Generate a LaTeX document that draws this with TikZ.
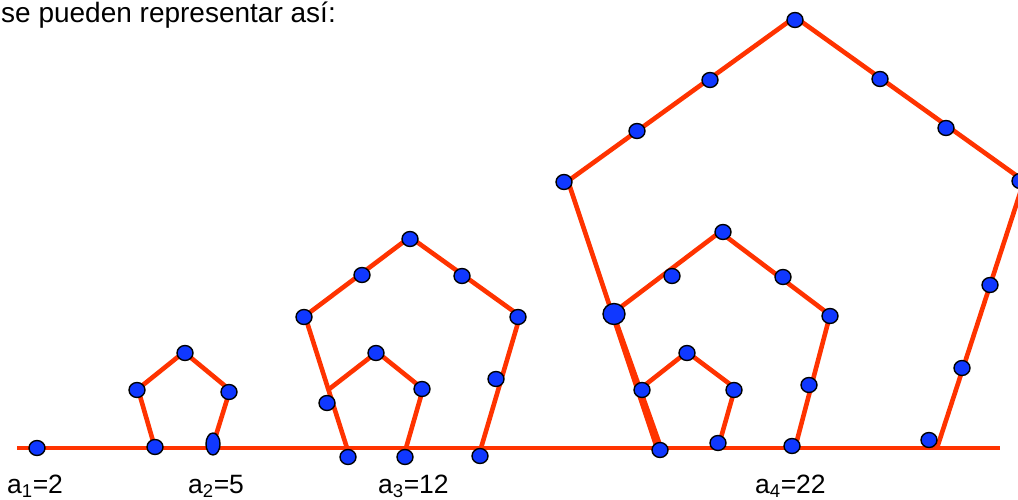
\documentclass[tikz,border=0pt]{standalone}
\usepackage{fontspec}
\setmainfont{Liberation Sans}
\usetikzlibrary{shapes.geometric}
\definecolor{rodred}{RGB}{255,51,0}
\definecolor{beadblue}{RGB}{16,56,255}

\begin{document}
\begin{tikzpicture}[x=1pt, y=-1pt,
    rod/.style={draw=rodred, line width=4.6pt},
    bead/.style={ellipse, draw=black, fill=beadblue, line width=1.4pt, minimum width=16pt, minimum height=15pt, inner sep=0pt},
    bigbead/.style={minimum width=22pt, minimum height=21pt},
    tallbead/.style={minimum width=14pt, minimum height=22pt},
    numtext/.style={anchor=base west, inner sep=0pt, font=\fontsize{26.5}{30}\selectfont}
  ]
  \clip (0,0) rectangle (1018,500);

  % the row everything stands on
  \coordinate (base-l) at (17,448);
  \coordinate (base-r) at (1000,448);
  \draw[rod] (base-l) -- (base-r);

  % a_2: one pentagon
  \coordinate (p2-bl) at (155,448);
  \coordinate (p2-l) at (138,389);
  \coordinate (p2-t) at (184,352);
  \coordinate (p2-r) at (230,390);
  \coordinate (p2-br) at (212,448);
  \draw[rod] (p2-bl) -- (p2-l) -- (p2-t) -- (p2-r) -- (p2-br);

  % a_3: two nested pentagons
  \coordinate (p3-bl) at (347,448);
  \coordinate (p3-l) at (305,316);
  \coordinate (p3-t) at (410,237);
  \coordinate (p3-r) at (520,316);
  \coordinate (p3-br) at (481,448);
  \coordinate (p3-il) at (328,390);
  \coordinate (p3-it) at (377,352);
  \coordinate (p3-ir) at (423,389);
  \coordinate (p3-ib) at (406,448);
  \draw[rod] (p3-bl) -- (p3-l) -- (p3-t) -- (p3-r) -- (p3-br);
  \draw[rod] (p3-il) -- (p3-it) -- (p3-ir) -- (p3-ib);

  % a_4: three nested pentagons
  \coordinate (p4-bl) at (657,448);
  \coordinate (p4-l) at (568,181);
  \coordinate (p4-t) at (795,17);
  \coordinate (p4-r) at (1024,181);
  \coordinate (p4-br) at (937,448);
  \coordinate (p4-mbl) at (661,448);
  \coordinate (p4-ml) at (613,313);
  \coordinate (p4-mt) at (720,232);
  \coordinate (p4-mr) at (830,315);
  \coordinate (p4-mb) at (795,448);
  \coordinate (p4-il) at (640,389);
  \coordinate (p4-it) at (687,352);
  \coordinate (p4-ir) at (735,388);
  \coordinate (p4-ib) at (718,448);
  \draw[rod] (p4-bl) -- (p4-l) -- (p4-t) -- (p4-r) -- (p4-br);
  \draw[rod] (p4-mbl) -- (p4-ml) -- (p4-mt) -- (p4-mr) -- (p4-mb);
  \draw[rod] (p4-il) -- (p4-it) -- (p4-ir) -- (p4-ib);

  % beads
  \foreach \n/\x/\y in {a1/37/448,
      b2-t/185/353, b2-l/137/390, b2-r/229/392, b2-bl/155/447,
      b3-t/410/239, b3-ul/362/275, b3-l/304/317, b3-ur/462/276, b3-r/518/317,
      b3-rm/496/379, b3-br/480/456, b3-bm/405/457, b3-bl/348/457, b3-lm/327/403,
      b3-it/376/353, b3-ir/422/389,
      b4-t/795/20, b4-ul1/710/80, b4-ul2/637/131, b4-l/564/182, b4-ur1/880/79,
      b4-ur2/946/128, b4-r/1020/181, b4-rs1/990/285, b4-rs2/962/368, b4-br/929/440,
      b4-b1/718/443, b4-b2/792/446, b4-bl/660/450, b4-li/642/390,
      b4-mt/723/232, b4-mul/672/276, b4-mur/783/277, b4-mr/830/316, b4-mrm/809/385,
      b4-it/687/353, b4-ir/734/390}
    \node[bead] (\n) at (\x,\y) {};
  \node[bead, tallbead] (b2-br) at (213,444) {};
  \node[bead, bigbead] (b4-lm) at (614,314) {};

  % texts
  \node[numtext, font=\fontsize{28}{32}\selectfont] (intro) at (1,23) {se pueden representar así:};
  \node[numtext] (n1) at (7,493) {a\textsubscript{1}=2};
  \node[numtext] (n2) at (188,493) {a\textsubscript{2}=5};
  \node[numtext] (n3) at (378,493) {a\textsubscript{3}=12};
  \node[numtext] (n4) at (755,493) {a\textsubscript{4}=22};
\end{tikzpicture}
\end{document}
